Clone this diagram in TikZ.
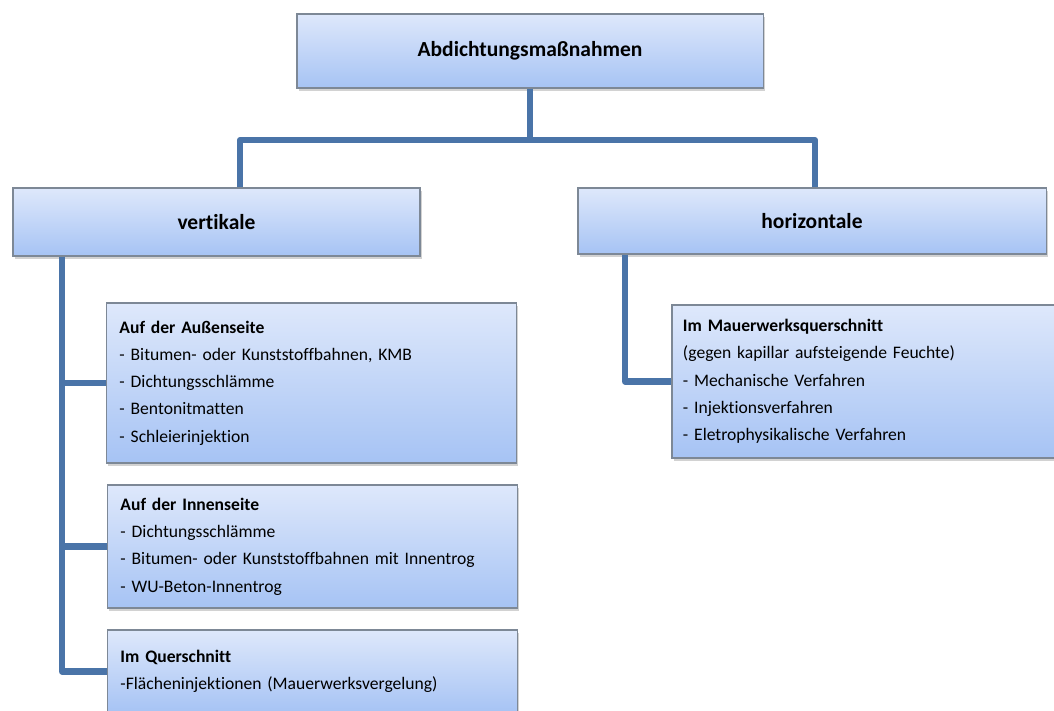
\documentclass[tikz,border=0pt]{standalone}
\usepackage{fontspec}
\setmainfont{Carlito}[Ligatures=NoCommon, WordSpace=0.7]
\usetikzlibrary{positioning, shadows, calc}
\definecolor{linkblue}{HTML}{4A74A8}
\definecolor{boxtop}{HTML}{DEE8FB}
\definecolor{boxbottom}{HTML}{A6C3F4}
\definecolor{boxedge}{HTML}{7D8896}
\tikzset{
	headbox/.style={draw=boxedge, line width=0.8pt, top color=boxtop, bottom color=boxbottom,
		drop shadow={opacity=0.35, shadow xshift=1.2pt, shadow yshift=-1.8pt},
		font=\fontsize{15.3}{18}\selectfont\bfseries, inner sep=0pt}
}
\tikzset{
	listbox/.style={headbox, font=\fontsize{12.5}{19.4}\selectfont, align=left,
		text width=9.6cm, inner xsep=0.33cm}
}
\tikzset{
	link/.style={draw=linkblue, line width=4.3pt, line join=round}
}

\begin{document}
\begin{tikzpicture}[x=0.025cm, y=-0.025cm]
	\useasboundingbox[fill=white] (0,0) rectangle (1054,711);

	% top level
	\node[headbox, minimum width=11.65cm, minimum height=1.85cm] (massn) at (530,51) {Abdichtungsmaßnahmen};

	\node[headbox, minimum width=10.175cm, minimum height=1.7cm] (vert) at (216.5,222) {vertikale};
	\node[headbox, minimum width=11.7cm, minimum height=1.65cm] (hori) at (812,221) {horizontale};

	% vertikale
	\node[listbox, minimum height=4cm] (aussen) at (311.5,383) {%
		\textbf{Auf der Außenseite}\\
		- Bitumen- oder Kunststoffbahnen, KMB\\
		- Dichtungsschlämme\\
		- Bentonitmatten\\
		- Schleierinjektion};
	\node[listbox, minimum height=3.075cm] (innen) at (312.5,546.5) {%
		\textbf{Auf der Innenseite}\\
		- Dichtungsschlämme\\
		- Bitumen- oder Kunststoffbahnen mit Innentrog\\
		- WU-Beton-Innentrog};
	\node[listbox, minimum height=2.075cm] (quer) at (312.5,671.5) {%
		\textbf{Im Querschnitt}\\
		-Flächeninjektionen (Mauerwerksvergelung)};

	% horizontale
	\node[listbox, minimum height=3.825cm, text width=9.4cm, inner xsep=0.275cm] (mauer) at (871,381.5) {%
		\textbf{Im Mauerwerksquerschnitt}\\
		(gegen kapillar aufsteigende Feuchte)\\
		- Mechanische Verfahren\\
		- Injektionsverfahren\\
		- Eletrophysikalische Verfahren};

	\coordinate (jL) at (240,140);
	\coordinate (jR) at (815,140);
	\coordinate (vspine) at (62,0);
	\coordinate (hspine) at (625,0);

	\draw[link] (massn.south) -- (massn.south |- jL);
	\draw[link] (jL |- vert.north) -- (jL) -- (jR) -- (jR |- hori.north);

	\draw[link] (vert.south -| vspine) |- (quer.west);
	\draw[link] (vspine |- aussen.west) -- (aussen.west);
	\draw[link] (vspine |- innen.west) -- (innen.west);

	\draw[link] (hori.south -| hspine) |- (mauer.west);

\end{tikzpicture}
\end{document}
